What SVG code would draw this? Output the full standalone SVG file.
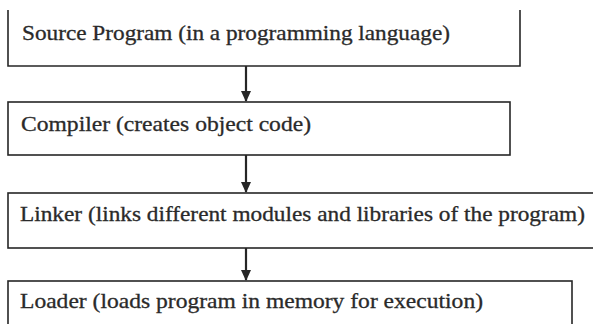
<svg xmlns="http://www.w3.org/2000/svg" width="593" height="324" viewBox="0 0 593 324">
<style>
.box{fill:none;stroke:#262626;stroke-width:1.6}
.lbl{font-family:'Liberation Serif','Times New Roman',serif;font-size:21px;fill:#2a2a2a;stroke:#2a2a2a;stroke-width:0.3}
.conn{stroke:#262626;stroke-width:2.2;fill:none}
</style>
<defs>
<marker id="ah" markerWidth="12" markerHeight="12" refX="10" refY="6" orient="auto" markerUnits="userSpaceOnUse">
<path d="M0,1 L11,6 L0,11 Z" fill="#262626"/>
</marker>
</defs>
<rect width="593" height="324" fill="#ffffff"/>
<g id="source">
<path class="box" d="M8,10 V66 H520 V10"/>
<text class="lbl" x="22" y="40" textLength="428" lengthAdjust="spacingAndGlyphs">Source Program (in a programming language)</text>
</g>
<g id="compiler">
<rect class="box" x="8" y="102" width="502" height="53"/>
<text class="lbl" x="21" y="131" textLength="290" lengthAdjust="spacingAndGlyphs">Compiler (creates object code)</text>
</g>
<g id="linker">
<rect class="box" x="8" y="193" width="600" height="55"/>
<text class="lbl" x="20" y="221" textLength="565" lengthAdjust="spacingAndGlyphs">Linker (links different modules and libraries of the program)</text>
</g>
<g id="loader">
<rect class="box" x="8" y="281" width="564" height="60"/>
<text class="lbl" x="20" y="308" textLength="463" lengthAdjust="spacingAndGlyphs">Loader (loads program in memory for execution)</text>
</g>
<g id="connectors">
<line class="conn" x1="246" y1="66" x2="246" y2="101" marker-end="url(#ah)"/>
<line class="conn" x1="246" y1="155" x2="246" y2="192" marker-end="url(#ah)"/>
<line class="conn" x1="246" y1="248" x2="246" y2="280" marker-end="url(#ah)"/>
</g>
</svg>
